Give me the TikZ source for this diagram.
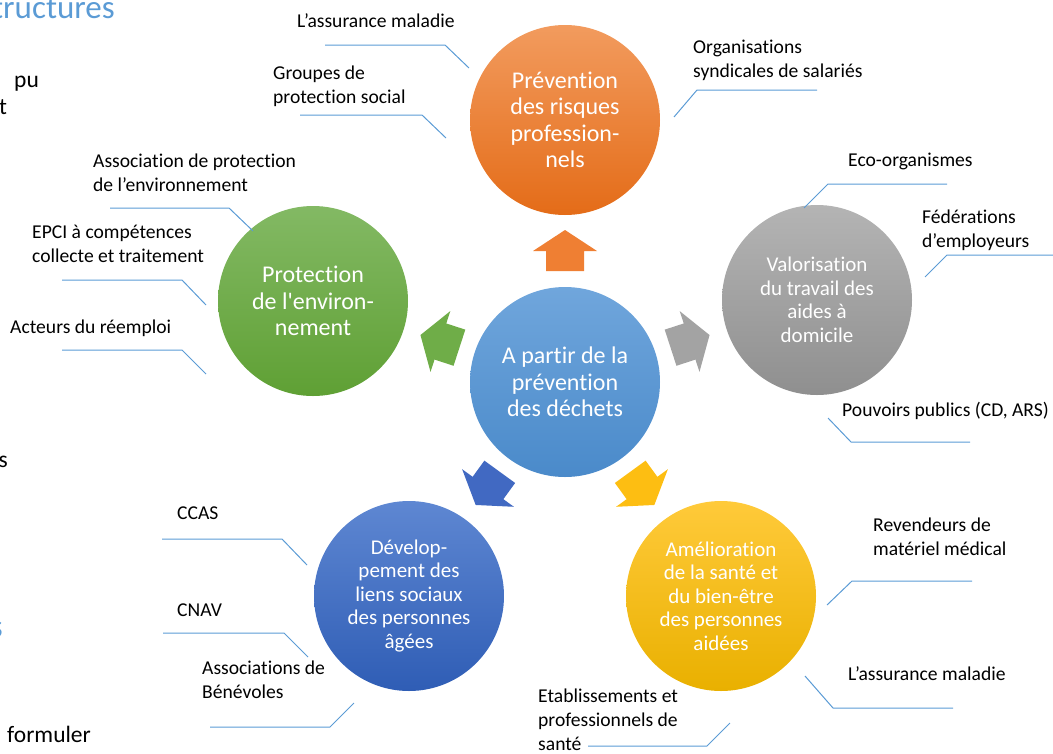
\documentclass[tikz,border=0pt]{standalone}
\usepackage{fontspec}
\setmainfont{Carlito}[Ligatures={TeX,CommonOff}]
\newcommand\sqapos{\XeTeXglyph\XeTeXcharglyph"0027\relax}
\definecolor{lineblue}{HTML}{5B9BD5}
\definecolor{headblue}{HTML}{5B9BD5}
\definecolor{cblueT}{HTML}{70A6DC}
\definecolor{cblueB}{HTML}{4A8ACA}
\definecolor{orT}{HTML}{F29B5E}
\definecolor{orB}{HTML}{E46C18}
\definecolor{grT}{HTML}{83B964}
\definecolor{grB}{HTML}{5FA034}
\definecolor{gyT}{HTML}{B4B4B4}
\definecolor{gyB}{HTML}{8F8F8F}
\definecolor{dbT}{HTML}{5E87D2}
\definecolor{dbB}{HTML}{2F5DB5}
\definecolor{yeT}{HTML}{FFCA3A}
\definecolor{yeB}{HTML}{E9B000}
\definecolor{orA}{HTML}{EF7F33}
\definecolor{grA}{HTML}{6FAD48}
\definecolor{gyA}{HTML}{A3A3A3}
\definecolor{dbA}{HTML}{4169C2}
\definecolor{yeA}{HTML}{FDBE12}
\begin{document}
\begin{tikzpicture}[x=1pt,y=-1pt,
  lbl/.style={anchor=base west, inner sep=0pt, align=left, font=\fontsize{19.6}{24}\selectfont, text=black},
  frag/.style={inner sep=0pt, font=\fontsize{23.5}{28}\selectfont, text=black},
  headfrag/.style={inner sep=0pt, font=\fontsize{33}{38}\selectfont, text=headblue},
  bigc/.style={circle, minimum size=190pt, inner sep=0pt, align=center, text=white, font=\fontsize{24}{26.5}\selectfont},
  smallc/.style={bigc, font=\fontsize{21}{23.5}\selectfont},
  conn/.style={draw=lineblue, line width=1pt}]
\useasboundingbox (0,0) rectangle (1053,753);
\clip (0,0) rectangle (1053,753);

% background document fragments
\node[headfrag, anchor=base east] (f1) at (115,18) {tructures};
\node[frag, anchor=base west] (f2) at (14,87) {pu};
\node[frag, anchor=base west] (f3) at (-1,114) {t};
\node[frag, anchor=base east] (f4) at (8,467) {s};
\node[headfrag, anchor=base east] (f5) at (3,637) {s};
\node[frag, anchor=base west] (f6) at (7,742) {formuler};

% circles
\node[bigc, top color=cblueT, bottom color=cblueB] (c) at (565,382) {A partir de la\\prévention\\des déchets};
\node[bigc, top color=orT, bottom color=orB] (o) at (565,120) {Prévention\\des risques\\profession-\\nels};
\node[bigc, top color=grT, bottom color=grB] (g) at (313,301) {Protection\\de l\sqapos environ-\\nement};
\node[smallc, top color=gyT, bottom color=gyB] (v) at (817,300) {Valorisation\\du travail des\\aides à\\domicile};
\node[smallc, top color=dbT, bottom color=dbB] (b) at (409,596) {Dévelop-\\pement des\\liens sociaux\\des personnes\\âgées};
\node[smallc, top color=yeT, bottom color=yeB] (y) at (721,596) {Amélioration\\de la santé et\\du bien-être\\des personnes\\aidées};

% arrows
\foreach \ang/\col in {90/orA,162/grA,18/gyA,234/dbA,306/yeA}{
  \begin{scope}[shift={(c.center)}, rotate=\ang]
    \fill[\col] (111,-19) -- (131,-19) -- (131,-32) -- (152,0) -- (131,32) -- (131,19) -- (111,19) -- cycle;
  \end{scope}
}

% labels (anchor = baseline of the last line)
\node[lbl] (l1) at (297,27) {L’assurance maladie};
\node[lbl] (l2) at (273,103) {Groupes de\\protection social};
\node[lbl] (l3) at (693,77) {Organisations\\syndicales de salariés};
\node[lbl] (l4) at (93,191) {Association de protection\\de l’environnement};
\node[lbl] (l5) at (32,262) {EPCI à compétences\\collecte et traitement};
\node[lbl] (l6) at (10,333) {Acteurs du réemploi};
\node[lbl] (l7) at (848,166) {Eco-organismes};
\node[lbl] (l8) at (922,247) {Fédérations\\d’employeurs};
\node[lbl] (l9) at (842,416) {Pouvoirs publics (CD, ARS)};
\node[lbl] (l10) at (873,555) {Revendeurs de\\matériel médical};
\node[lbl] (l11) at (848,680) {L’assurance maladie};
\node[lbl] (l12) at (538,750) {Etablissements et\\professionnels de\\santé};
\node[lbl] (l13) at (177,519) {CCAS};
\node[lbl] (l14) at (177,616) {CNAV};
\node[lbl] (l15) at (202,698) {Associations de\\Bénévoles};

% connector coordinates
\coordinate (a1) at (325,45);  \coordinate (b1) at (445,45);  \coordinate (e1) at (469,68);
\coordinate (a2) at (300,115); \coordinate (b2) at (422,115); \coordinate (e2) at (446,138);
\coordinate (a3) at (817,90);  \coordinate (b3) at (697,90);  \coordinate (e3) at (674,117);
\coordinate (a4) at (110,208); \coordinate (b4) at (229,208); \coordinate (e4) at (253,231);
\coordinate (a5) at (62,280);  \coordinate (b5) at (182,280); \coordinate (e5) at (206,305);
\coordinate (a6) at (62,350);  \coordinate (b6) at (182,350); \coordinate (e6) at (206,374);
\coordinate (a7) at (947,184); \coordinate (b7) at (828,184); \coordinate (e7) at (804,208);
\coordinate (a8) at (1053,255);\coordinate (b8) at (947,255); \coordinate (e8) at (925,277);
\coordinate (a9) at (970,442); \coordinate (b9) at (851,442); \coordinate (e9) at (828,418);
\coordinate (a10) at (972,581);\coordinate (b10) at (852,581);\coordinate (e10) at (827,605);
\coordinate (a11) at (953,708);\coordinate (b11) at (833,708);\coordinate (e11) at (805,676);
\coordinate (a12) at (588,746);\coordinate (b12) at (707,746);\coordinate (e12) at (730,723);
\coordinate (a13) at (162,539);\coordinate (b13) at (282,539);\coordinate (e13) at (307,565);
\coordinate (a14) at (163,633);\coordinate (b14) at (284,633);\coordinate (e14) at (308,657);
\coordinate (a15) at (210,727);\coordinate (b15) at (330,727);\coordinate (e15) at (354,703);
\foreach \i in {1,...,15}{
  \draw[conn] (a\i) -- (b\i) -- (e\i);
}
\end{tikzpicture}
\end{document}
